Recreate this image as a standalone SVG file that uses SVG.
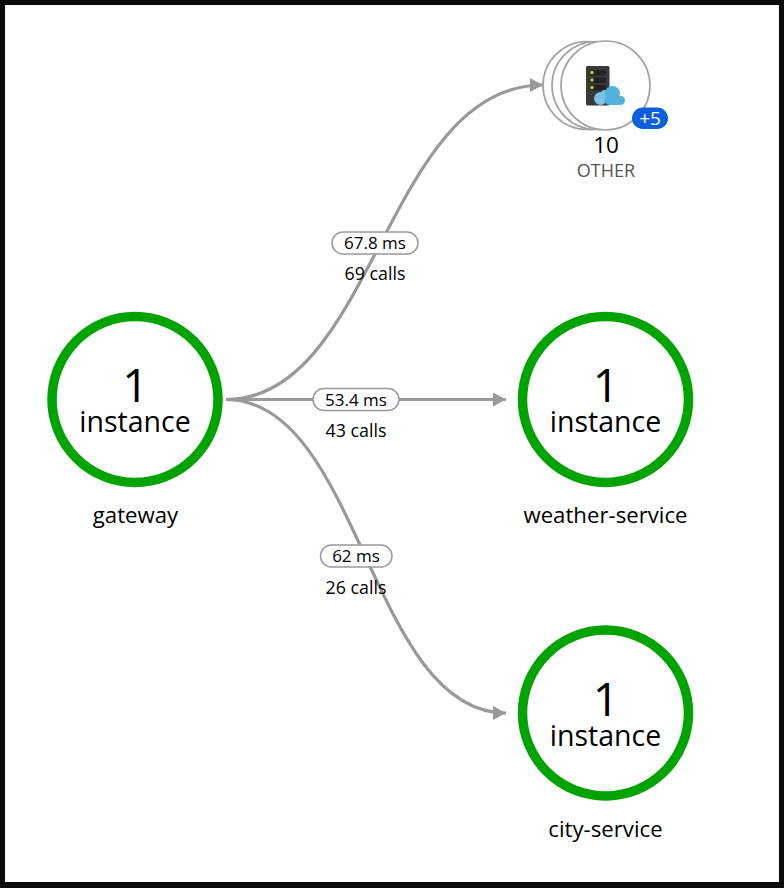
<svg xmlns="http://www.w3.org/2000/svg" width="784" height="888" viewBox="0 0 784 888">
<style>
text{font-family:"Open Sans","Noto Sans","Liberation Sans",sans-serif;text-anchor:middle;fill:#000}
.ring{fill:#fff;stroke:#00a300;stroke-width:9.5}
.big{font-size:46px}
.inst{font-size:28.500px}
.name{font-size:22.200px}
.edge{fill:none;stroke:#999;stroke-width:3.2;marker-end:url(#arrow)}
.pill{fill:#fff;stroke:#999;stroke-width:1.5}
.lab{font-size:17px}
.calls{font-size:17.800px}
.stack{fill:#fff;stroke:#a3a3a3;stroke-width:1.7}
.light{fill:#7cc4e4}
.dark{fill:#52b0da}
</style>
<defs>
<marker id="arrow" markerUnits="userSpaceOnUse" markerWidth="14" markerHeight="14" refX="13" refY="7" orient="auto">
<path d="M0 0L13 7L0 14Z" fill="#999"/>
</marker>
</defs>
<rect x="0" y="0" width="784" height="888" fill="#0a0a0a"/>
<rect x="5" y="5" width="774" height="877" fill="#fff"/>
<g id="connectors">
<path class="edge" d="M226 399.500C375 399.500 385 85 543 85"/>
<path class="edge" d="M226 399.500H506"/>
<path class="edge" d="M226 399.500C360 399.500 370 713 506 713"/>
</g>
<g id="edge-label-1"><rect class="pill" x="332" y="232" width="86" height="22" rx="11"/><text class="lab" x="375" y="249">67.8 ms</text><text class="calls" x="375" y="279.500">69 calls</text></g>
<g id="edge-label-2"><rect class="pill" x="313" y="388.500" width="86" height="22" rx="11"/><text class="lab" x="356" y="405.500">53.4 ms</text><text class="calls" x="356" y="436.500">43 calls</text></g>
<g id="edge-label-3"><rect class="pill" x="320.500" y="545" width="71.500" height="22" rx="11"/><text class="lab" x="356" y="562">62 ms</text><text class="calls" x="356" y="593.500">26 calls</text></g>
<g id="gateway"><circle class="ring" cx="135" cy="399.500" r="83"/><text class="big" x="135.500" y="402">1</text><text class="inst" x="135" y="432">instance</text><text class="name" x="135.500" y="523">gateway</text></g>
<g id="weather-service"><circle class="ring" cx="605.500" cy="399.500" r="83"/><text class="big" x="606" y="402">1</text><text class="inst" x="605.500" y="432">instance</text><text class="name" x="605.500" y="523">weather-service</text></g>
<g id="city-service"><circle class="ring" cx="605.500" cy="713" r="83"/><text class="big" x="606" y="716">1</text><text class="inst" x="605.500" y="746">instance</text><text class="name" x="605.500" y="837">city-service</text></g>
<g id="other">
<circle class="stack" cx="587" cy="85.500" r="44"/>
<circle class="stack" cx="596" cy="85.500" r="44"/>
<circle class="stack" cx="605.500" cy="85.500" r="44.500"/>
<rect x="586" y="66" width="23.500" height="39.500" rx="1.500" fill="#3a3a3a"/>
<rect x="590" y="70" width="16" height="5.500" rx="2" fill="#222"/>
<rect x="590" y="77.500" width="16" height="5.500" rx="2" fill="#222"/>
<rect x="590" y="85" width="16" height="5.500" rx="2" fill="#222"/>
<circle cx="592" cy="72.500" r="1.700" fill="#b8d432"/>
<circle cx="592" cy="80" r="1.700" fill="#b8d432"/>
<circle cx="592" cy="87.500" r="1.700" fill="#b8d432"/>
<circle class="light" cx="600.500" cy="98.500" r="6.500"/>
<circle class="light" cx="605" cy="95" r="5"/>
<circle class="dark" cx="612.500" cy="93.500" r="7.500"/>
<circle class="dark" cx="610" cy="99.500" r="5.500"/>
<circle class="dark" cx="620.500" cy="100.500" r="4.500"/>
<rect class="dark" x="610" y="96" width="9" height="9"/>
<rect x="632" y="107.500" width="36" height="21.500" rx="10.750" fill="#0b5fdc"/>
<text x="650" y="125" font-size="19" style="fill:#fff">+5</text>
<text x="606" y="153" font-size="22.500">10</text>
<text x="606" y="176.500" font-size="18" style="fill:#555">OTHER</text>
</g>
</svg>
